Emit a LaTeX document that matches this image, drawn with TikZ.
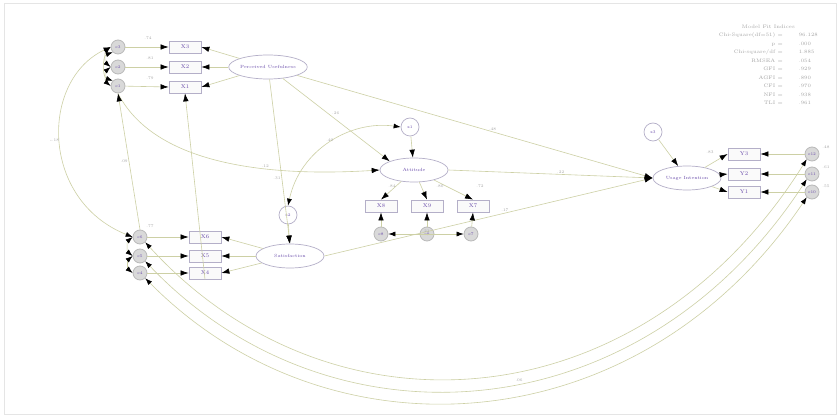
\documentclass[tikz,border=0pt]{standalone}
\usetikzlibrary{arrows.meta,shapes.geometric}
\definecolor{ln}{RGB}{205,208,165}
\definecolor{bd}{RGB}{180,175,200}
\definecolor{tx}{RGB}{105,75,170}
\definecolor{lb}{RGB}{165,165,165}
\begin{document}
\begin{tikzpicture}[x=1pt,y=-1pt,
 obs/.style={draw=bd, line width=0.8pt, fill=gray!4, minimum width=32pt, minimum height=12pt, inner sep=0pt, font=\fontsize{5.5}{6}\selectfont, text=tx},
 lat/.style={ellipse, draw=bd, line width=0.7pt, fill=white, minimum width=68pt, minimum height=24pt, inner sep=0pt, font=\fontsize{4.5}{5}\selectfont, text=tx},
 err/.style={circle, draw=gray!55, line width=0.8pt, fill=gray!30, minimum size=14pt, inner sep=0pt, font=\fontsize{4}{5}\selectfont, text=tx},
 dist/.style={circle, draw=bd, line width=0.7pt, fill=white, minimum size=18pt, inner sep=0pt, font=\fontsize{4}{5}\selectfont, text=tx},
 pth/.style={draw=ln, line width=0.6pt, -{Latex[length=8pt,width=5.5pt,color=black]}},
 cov/.style={draw=ln, line width=0.6pt, {Latex[length=7pt,width=5pt,color=black]}-{Latex[length=7pt,width=5pt,color=black]}},
 lab/.style={font=\fontsize{4}{5}\selectfont, text=lb, inner sep=1pt}]
\useasboundingbox (0,0) rectangle (840,419);
\fill[white] (0,0) rectangle (840,419);
\draw[gray!20, line width=1pt] (4,4) rectangle (836,414);

% fit table
\node[anchor=north east, font=\fontsize{5}{8.5}\selectfont, text=lb, inner sep=0pt] (fit) at (818,22) {%
\begin{tabular}{@{}r@{\hspace{16pt}}l@{}}
\multicolumn{2}{c}{Model Fit Indices}\\
Chi-Square(df=51) = & 96.128\\
p = & .000\\
Chi-square/df = & 1.885\\
RMSEA = & .054\\
GFI = & .929\\
AGFI = & .890\\
CFI = & .970\\
NFI = & .938\\
TLI = & .961
\end{tabular}};

% latent variables
\node[lat] (pu) at (268,67) {Perceived Usefulness};
\node[lat] (at) at (414,170) {Attitude};
\node[lat] (sn) at (290,256) {Satisfaction};
\node[lat] (ui) at (687,178) {Usage Intention};
\node[dist] (z1) at (410,127) {z1};
\node[dist] (z2) at (288,215) {z2};
\node[dist] (z3) at (653,132) {z3};

% top-left indicators
\node[obs] (x3) at (185,47) {X3};
\node[obs] (x2) at (185,67) {X2};
\node[obs] (x1) at (185,87) {X1};
\node[err] (e1) at (118,47) {e3};
\node[err] (e2) at (118,67) {e2};
\node[err] (e3) at (118,86) {e1};

% bottom-left indicators
\node[obs] (x6) at (205,237) {X6};
\node[obs] (x5) at (205,256) {X5};
\node[obs] (x4) at (205,273) {X4};
\node[err] (e4) at (140,237) {e6};
\node[err] (e5) at (140,256) {e5};
\node[err] (e6) at (140,273) {e4};

% middle indicators
\node[obs] (x7) at (381,206) {X8};
\node[obs] (x8) at (427,206) {X9};
\node[obs] (x9) at (473,206) {X7};
\node[err] (e7) at (381,234) {e8};
\node[err] (e8) at (427,234) {e9};
\node[err] (e9) at (471,234) {e7};

% right indicators
\node[obs] (y3) at (744,154) {Y3};
\node[obs] (y2) at (744,174) {Y2};
\node[obs] (y1) at (744,192) {Y1};
\node[err] (e10) at (812,154) {e12};
\node[err] (e11) at (812,174) {e11};
\node[err] (e12) at (812,192) {e10};

% structural paths
\draw[pth] (pu) -- node[lab,pos=0.55,above]{.48} (ui.west);
\draw[pth] (pu) -- node[lab,pos=0.45,above right]{.26} (at.north west);
\draw[pth] (pu) -- node[lab,pos=0.6,left]{.31} (sn.north);
\draw[pth] (at.east) -- node[lab,pos=0.55,above]{.22} (ui.west);
\draw[pth] (sn.east) -- node[lab,pos=0.55,above]{.17} (ui.west);
\draw[pth] (z1) -- (at);
\draw[pth] (z2) -- (sn);
\draw[pth] (z3) -- (ui);
\draw[cov] (z2.north) .. controls (300,150) and (350,120) .. node[lab,above]{.40} (z1.west);
\draw[pth] (e3.south) .. controls (160,175) and (300,175) .. node[lab,pos=0.6,above]{.12} (at.west);

% measurement: top-left
\foreach \x/\e in {x3/e1,x2/e2,x1/e3}{
 \draw[pth] (pu) -- (\x.east);
 \draw[pth] (\e) -- (\x.west);
}
\draw[cov] (e1.west) to[bend right=50] (e2.west);
\draw[cov] (e2.west) to[bend right=50] (e3.west);
\draw[cov] (e1.south west) to[bend right=70] (e3.north west);
\node[lab] (l1) at (148,38) {.74};
\node[lab] (l2) at (150,58) {.81};
\node[lab] (l3) at (150,78) {.79};

% measurement: bottom-left
\foreach \x/\e in {x6/e4,x5/e5,x4/e6}{
 \draw[pth] (sn) -- (\x.east);
 \draw[pth] (\e) -- (\x.west);
}
\draw[cov] (e4.west) to[bend right=50] (e5.west);
\draw[cov] (e5.west) to[bend right=50] (e6.west);
\node[lab] (l4) at (150,226) {.77};

% measurement: middle
\foreach \x/\e in {x7/e7,x8/e8,x9/e9}{
 \draw[pth] (at) -- (\x.north);
 \draw[pth] (\e) -- (\x.south);
}
\draw[cov] (e7.east) -- node[lab,above]{.21} (e9.west);
\node[lab] (l5) at (392,186) {.84};
\node[lab] (l6) at (440,186) {.80};
\node[lab] (l7) at (480,186) {.72};

% measurement: right
\foreach \x/\e in {y3/e10,y2/e11,y1/e12}{
 \draw[pth] (ui) -- (\x.west);
 \draw[pth] (\e) -- (\x.east);
}
\node[lab] (l8) at (710,152) {.83};
\node[lab] (l9) at (826,147) {.48};
\node[lab] (l10) at (826,167) {.61};
\node[lab] (l11) at (826,186) {.55};

% other covariances
\draw[cov] (e1.west) .. controls (40,80) and (40,200) .. node[lab,left]{-.18} (e4.west);
\draw[pth] (e4.north) -- node[lab,pos=0.5,left]{.09} (e3.south);
\draw[pth] (x4.south) -- (x1.south);
\draw[cov] (e4.south east) .. controls (330,445) and (640,425) .. (e10.south west);
\draw[cov] (e5.south east) .. controls (330,455) and (640,435) .. node[lab,pos=0.55,above]{.06} (e11.south west);
\draw[cov] (e6.south east) .. controls (330,465) and (640,445) .. (e12.south west);
\end{tikzpicture}
\end{document}
